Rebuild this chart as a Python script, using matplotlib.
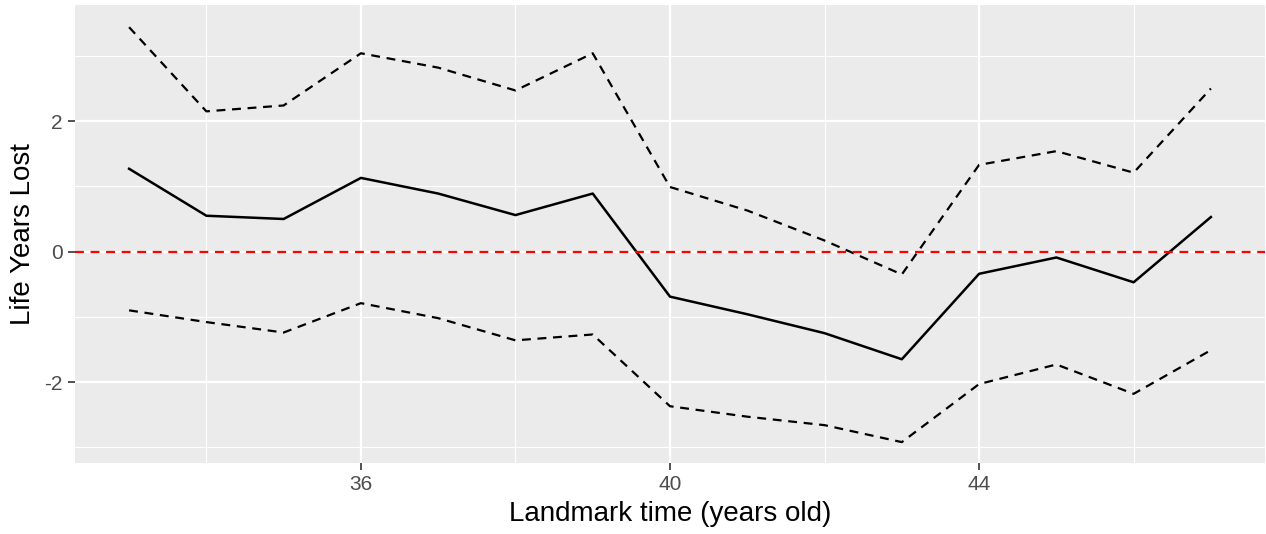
import matplotlib
matplotlib.use("Agg")
import matplotlib.pyplot as plt
from matplotlib.ticker import MultipleLocator

plt.rcParams["font.family"] = ["Liberation Sans", "DejaVu Sans"]
plt.rcParams["axes.unicode_minus"] = False

landmark = [33, 34, 35, 36, 37, 38, 39, 40, 41, 42, 43, 44, 45, 46, 47]
lyl = [1.27, 0.55, 0.50, 1.13, 0.89, 0.56, 0.89, -0.69, -0.96, -1.25, -1.65, -0.34, -0.09, -0.47, 0.53]
upper = [3.44, 2.15, 2.24, 3.04, 2.82, 2.47, 3.04, 0.99, 0.63, 0.17, -0.35, 1.33, 1.54, 1.21, 2.50]
lower = [-0.90, -1.08, -1.24, -0.79, -1.02, -1.36, -1.27, -2.37, -2.53, -2.66, -2.92, -2.03, -1.73, -2.18, -1.51]

x_ticks = [36, 40, 44]
y_ticks = [-2, 0, 2]

fig = plt.figure(figsize=(12.66, 5.34), dpi=100)
ax = fig.add_axes([75 / 1266, 71 / 534, 1190 / 1266, 458 / 534])
ax.set_facecolor("#ebebeb")
for s in ax.spines.values():
    s.set_visible(False)

# ggplot-ish grid
ax.xaxis.set_minor_locator(MultipleLocator(2))
ax.yaxis.set_minor_locator(MultipleLocator(1))
ax.grid(which="major", color="white", linewidth=1.6)
ax.grid(which="minor", color="white", linewidth=0.8)
ax.set_axisbelow(True)

ax.plot(landmark, upper, color="black", linestyle=(0, (4, 3)), linewidth=1.6)
ax.plot(landmark, lower, color="black", linestyle=(0, (4, 3)), linewidth=1.6)
ax.plot(landmark, lyl, color="black", linewidth=1.8)
ax.axhline(0, color="red", linestyle=(0, (4, 3)), linewidth=1.6)

ax.set_xlim(32.3, 47.7)
ax.set_ylim(-3.24, 3.78)
ax.set_xticks(x_ticks)
ax.set_yticks(y_ticks)
ax.tick_params(which="major", length=5, width=1.2, pad=4, color="#333333",
               labelsize=15, labelcolor="#4d4d4d")
ax.tick_params(which="minor", length=0)

ax.set_xlabel("Landmark time (years old)", fontsize=20, labelpad=5)
ax.set_ylabel("Life Years Lost", fontsize=20, labelpad=6)

fig.savefig("out.png", dpi=100)
